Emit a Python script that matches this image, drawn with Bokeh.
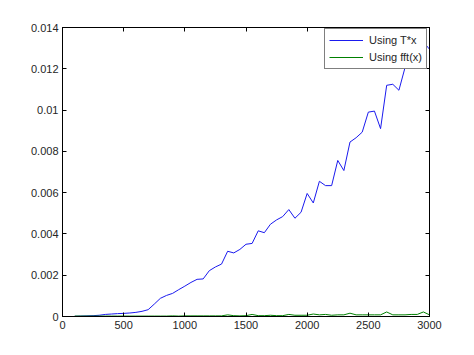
from bokeh.plotting import figure
from bokeh.models import (Range1d, FixedTicker, PrintfTickFormatter, LinearAxis,
                          Legend, LegendItem, ColumnDataSource)
from bokeh.embed import file_html
from bokeh.resources import INLINE

# Problem sizes (x axis)
sizes = [100, 150, 200, 250, 300, 350, 400, 450, 500, 550, 600, 650, 700, 750,
         800, 850, 900, 950, 1000, 1050, 1100, 1150, 1200, 1250, 1300, 1350,
         1400, 1450, 1500, 1550, 1600, 1650, 1700, 1750, 1800, 1850, 1900,
         1950, 2000, 2050, 2100, 2150, 2200, 2250, 2300, 2350, 2400, 2450,
         2500, 2550, 2600, 2650, 2700, 2750, 2800, 2850, 2900, 2950, 3000]

# Timing using matrix product T*x
t_matrix = [0.00001, 0.00002, 0.00003, 0.00004, 0.00006, 0.0001, 0.00012,
            0.00014, 0.00015, 0.00017, 0.0002, 0.00025, 0.00033, 0.0006,
            0.00088, 0.00102, 0.00112, 0.0013, 0.00147, 0.00165, 0.0018,
            0.00182, 0.00222, 0.0024, 0.00254, 0.00316, 0.00308, 0.00325,
            0.0035, 0.00354, 0.00415, 0.00406, 0.00447, 0.00468, 0.00484,
            0.00518, 0.00476, 0.00505, 0.00596, 0.0055, 0.00655, 0.00634,
            0.00634, 0.00756, 0.00707, 0.00845, 0.00866, 0.00893, 0.0099,
            0.00995, 0.0091, 0.0112, 0.01125, 0.01096, 0.01206, 0.0123,
            0.0127, 0.0133, 0.01295]

# Timing using fft(x)
t_fft = [0.00002, 0.00002, 0.00002, 0.00002, 0.00002, 0.00002, 0.00002,
         0.00002, 0.00002, 0.00002, 0.00002, 0.00002, 0.00002, 0.00002,
         0.00002, 0.00002, 0.00003, 0.00002, 0.00003, 0.00003, 0.00003,
         0.00003, 0.00003, 0.00003, 0.00003, 0.00008, 0.00004, 0.00003,
         0.00004, 0.0001, 0.00004, 0.00004, 0.00006, 0.00004, 0.00004,
         0.0001, 0.00006, 0.00006, 0.00006, 0.00012, 0.00008, 0.0001,
         0.00006, 0.00008, 0.00008, 0.00016, 0.00008, 0.00008, 0.00008,
         0.00008, 0.00008, 0.00022, 0.00008, 0.00008, 0.00008, 0.0001,
         0.0001, 0.00022, 0.00008]

x_ticks = [0, 500, 1000, 1500, 2000, 2500, 3000]
y_ticks = [0, 0.002, 0.004, 0.006, 0.008, 0.01, 0.012, 0.014]

FONT = "Liberation Sans"
TXT = "#262626"

p = figure(width=474, height=355, output_backend="svg", toolbar_location=None,
           x_range=Range1d(0, 3000), y_range=Range1d(0, 0.014),
           min_border_left=62, min_border_right=45, min_border_top=27,
           min_border_bottom=39)
p.background_fill_color = "white"
p.border_fill_color = "white"
p.outline_line_color = "black"
p.outline_line_width = 1
p.xgrid.visible = False
p.ygrid.visible = False

src = ColumnDataSource(dict(n=sizes, tm=t_matrix, tf=t_fft))
r1 = p.line("n", "tm", source=src, line_color="#1a1aee", line_width=1)
r2 = p.line("n", "tf", source=src, line_color="#008000", line_width=1)

def style(ax, labels=True):
    ax.axis_line_color = "black"
    ax.major_tick_line_color = "black"
    ax.major_tick_in = 4
    ax.major_tick_out = 0
    ax.minor_tick_line_color = None
    ax.major_label_text_font = FONT
    ax.major_label_text_font_size = "11px"
    ax.major_label_text_color = TXT if labels else None
    ax.major_label_standoff = 4

p.xaxis.ticker = FixedTicker(ticks=x_ticks)
p.yaxis.ticker = FixedTicker(ticks=y_ticks)
p.yaxis.formatter = PrintfTickFormatter(format="%g")
style(p.xaxis[0])
style(p.yaxis[0])

top = LinearAxis(ticker=FixedTicker(ticks=x_ticks))
style(top, labels=False)
p.add_layout(top, "above")
right = LinearAxis(ticker=FixedTicker(ticks=y_ticks))
style(right, labels=False)
p.add_layout(right, "right")

legend = Legend(items=[LegendItem(label="Using T*x", renderers=[r1]),
                       LegendItem(label="Using fft(x)", renderers=[r2])],
                location=(262, 247))
legend.border_line_color = "black"
legend.border_line_width = 1
legend.background_fill_color = "white"
legend.background_fill_alpha = 1
legend.label_text_font = FONT
legend.label_text_font_size = "11px"
legend.label_text_color = TXT
legend.glyph_width = 34
legend.glyph_height = 14
legend.label_height = 14
legend.spacing = 3
legend.padding = 4
legend.label_standoff = 6
legend.margin = 0
p.add_layout(legend)

open("out.html", "w").write(file_html(p, INLINE))
